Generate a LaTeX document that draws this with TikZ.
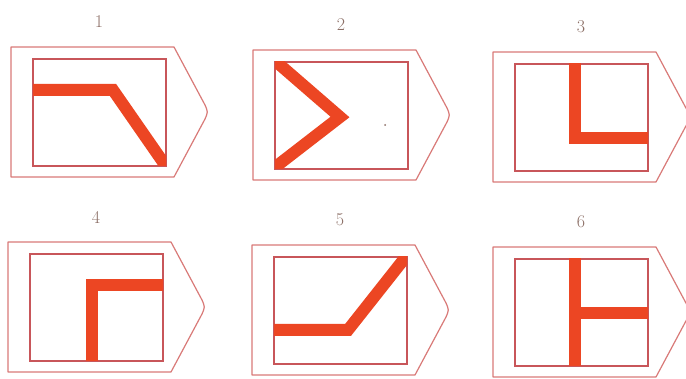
\documentclass[tikz,border=0pt]{standalone}
\usepackage{tikz}
\usepackage{xcolor}
\usetikzlibrary{positioning}
\definecolor{tagline}{HTML}{D97A78}
\definecolor{frameline}{HTML}{C8565A}
\definecolor{barred}{HTML}{EC4623}
\definecolor{numgray}{HTML}{8C6F66}
\tikzset{
  tagshape/.style={draw=tagline,line width=1.2pt,line join=round},
  innerframe/.style={draw=frameline,line width=1.4pt},
  redbar/.style={draw=barred,line width=12pt,line join=miter,line cap=butt},
  tagnum/.style={font=\fontsize{18}{18}\selectfont,text=numgray,inner sep=0pt}
}

\begin{document}
\begin{tikzpicture}[x=1pt,y=-1pt]
  \useasboundingbox[fill=white] (0,0) rectangle (686,379);

  % outline, inner frame and number of every tag
  \foreach \ox/\oy/\k in {11/47/1,253/50/2,493/52/3,8/242/4,252/245/5,493/247/6} {
    \begin{scope}[shift={(\ox,\oy)}]
      \draw[tagshape] (0,0) -- (163,0) -- (194,58) .. controls (197,65) .. (194,72)
        -- (163,130) -- (0,130) -- cycle;
      \draw[innerframe] (22,12) rectangle (155,119);
      \node[tagnum] (n\k) at (88,-25) {\k};
    \end{scope}
  }

  % tag 1
  \begin{scope}[shift={(11,47)}]
    \clip (22,12) rectangle (155,119);
    \draw[redbar] (0,43) -- (102,43) -- (170,141);
  \end{scope}
  % tag 2
  \begin{scope}[shift={(253,50)}]
    \fill[numgray] (132,75) circle (1);
    \clip (22,12) rectangle (155,119);
    \draw[redbar] (12,2) -- (87,67) -- (12,125);
  \end{scope}
  % tag 3
  \begin{scope}[shift={(493,52)}]
    \clip (22,12) rectangle (155,119);
    \draw[redbar] (82,0) -- (82,86) -- (170,86);
  \end{scope}
  % tag 4
  \begin{scope}[shift={(8,242)}]
    \clip (22,12) rectangle (155,119);
    \draw[redbar] (84,140) -- (84,43) -- (170,43);
  \end{scope}
  % tag 5
  \begin{scope}[shift={(252,245)}]
    \clip (22,12) rectangle (155,119);
    \draw[redbar] (0,85) -- (96,85) -- (175,-15);
  \end{scope}
  % tag 6
  \begin{scope}[shift={(493,247)}]
    \clip (22,12) rectangle (155,119);
    \draw[redbar] (82,0) -- (82,140);
    \draw[redbar] (82,66) -- (170,66);
  \end{scope}
\end{tikzpicture}
\end{document}
